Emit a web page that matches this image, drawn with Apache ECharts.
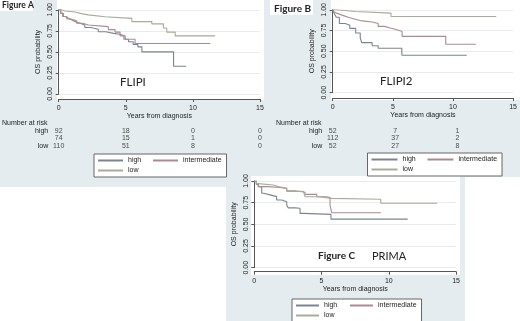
<!DOCTYPE html>
<html><head><meta charset="utf-8">
<script src="https://cdn.jsdelivr.net/npm/echarts@6/dist/echarts.min.js"></script>
<style>html,body{margin:0;padding:0;background:#fff}#c{width:520px;height:321px}</style>
</head><body><div id="c"></div>
<script>
// ---- data (time in years, OS probability) ----
const groups = ['high', 'intermediate', 'low'];
const xTicks = [0, 5, 10, 15];
const yTicks = [0, 0.25, 0.5, 0.75, 1];

// Figure A (FLIPI)
const aHigh = [[0,1],[0.15,0.96],[0.3,0.92],[0.5,0.9],[0.72,0.88],[1.0,0.86],[1.2,0.84],[1.6,0.82],[1.95,0.79],[2.4,0.77],[2.95,0.74],[3.5,0.72],[4.1,0.71],[4.55,0.69],[4.95,0.65],[5.2,0.62],[5.55,0.59],[5.9,0.56],[6.2,0.50],[8.56,0.33],[9.5,0.33]];
const aInt  = [[0,1],[0.15,0.96],[0.35,0.92],[0.6,0.89],[0.9,0.87],[1.34,0.84],[1.8,0.82],[2.21,0.80],[3.7,0.765],[4.2,0.735],[4.57,0.69],[4.85,0.65],[5.69,0.60],[11.3,0.60]];
const aLow  = [[0,1],[0.2,0.985],[0.47,0.974],[1.2,0.955],[1.7,0.94],[2.2,0.917],[3.45,0.898],[5.45,0.86],[6.94,0.833],[7.8,0.784],[8.05,0.735],[8.68,0.69],[11.66,0.69]];
// Figure B (FLIPI2)
const bHigh = [[0,1],[0.15,0.95],[0.3,0.91],[0.55,0.834],[1.04,0.815],[1.42,0.776],[1.91,0.72],[2.29,0.66],[2.41,0.604],[3.28,0.566],[3.78,0.536],[5.75,0.452],[11.15,0.452]];
const bInt  = [[0,1],[0.15,0.97],[0.3,0.948],[0.55,0.93],[0.9,0.91],[1.29,0.89],[1.8,0.87],[2.29,0.853],[3.28,0.834],[3.78,0.80],[4.3,0.78],[4.78,0.765],[5.2,0.75],[5.52,0.738],[5.77,0.68],[9.4,0.585],[11.9,0.585]];
const bLow  = [[0,1],[0.3,0.98],[1.9,0.96],[4.85,0.92],[13.6,0.92]];
// Figure C (PRIMA)
const cHigh = [[0,1],[0.15,0.97],[0.3,0.934],[0.55,0.858],[0.7,0.84],[1.17,0.82],[1.66,0.78],[2.04,0.76],[2.41,0.72],[2.53,0.69],[3.03,0.685],[3.4,0.627],[3.64,0.615],[5.7,0.56],[11.4,0.56]];
const cInt  = [[0,1],[0.15,0.96],[0.3,0.935],[1.0,0.925],[1.91,0.915],[2.41,0.888],[3.0,0.87],[3.77,0.846],[4.64,0.819],[5.38,0.808],[5.63,0.72],[5.75,0.634],[9.4,0.634]];
const cLow  = [[0,1],[0.15,0.97],[0.3,0.954],[1.41,0.935],[1.79,0.915],[2.41,0.88],[3.65,0.858],[3.77,0.819],[4.76,0.80],[5.75,0.789],[9.4,0.743],[13.6,0.743]];

// Number at risk
const riskTimesA = [0, 5, 10, 15];
const riskAHigh = [92, 18, 0, 0];
const riskAInt  = [74, 15, 1, 0];
const riskALow  = [110, 51, 8, 0];
const riskTimesB = [0, 5, 10];
const riskBHigh = [52, 7, 1];
const riskBInt  = [112, 37, 2];
const riskBLow  = [52, 27, 8];

// ---- styling ----
const F = '"Liberation Sans", Arial, sans-serif';
const FA = 'Lato, "Open Sans", sans-serif';
const TXT = '#222';
const AX = '#555';
const GREY = '#e5ecef';
const COL = { high: '#7a8590', intermediate: '#ad8a8e', low: '#a8ab98' };

function plotX(grid, offset) {
  return { gridIndex: grid, type: 'value', min: 0, max: 15, interval: 5, offset: offset,
    axisLine: { show: true, onZero: false, lineStyle: { color: AX, width: 1 } },
    axisTick: { show: true, length: 3, lineStyle: { color: AX } },
    axisLabel: { fontSize: 7, margin: 5.5, color: TXT, fontFamily: F },
    splitLine: { show: false },
    name: 'Years from diagnosis', nameLocation: 'middle', nameGap: 11.5,
    nameTextStyle: { fontSize: 7, color: TXT, fontFamily: F } };
}
function plotY(grid) {
  return { gridIndex: grid, type: 'value', min: 0, max: 1, interval: 0.25,
    axisLine: { show: true, lineStyle: { color: AX, width: 1 } },
    axisTick: { show: true, length: 3, lineStyle: { color: AX } },
    axisLabel: { rotate: 90, fontSize: 7, margin: 5, color: TXT, fontFamily: F, formatter: v => v.toFixed(2) },
    splitLine: { show: true, lineStyle: { color: '#e8ecee', width: 1 } },
    name: 'OS probability', nameLocation: 'middle', nameGap: 17,
    nameTextStyle: { fontSize: 7, color: TXT, fontFamily: F } };
}
function riskX(grid) { return { gridIndex: grid, type: 'value', min: 0, max: 15, show: false }; }
function riskY(grid) {
  return { gridIndex: grid, type: 'category', data: groups, inverse: true,
    axisLine: { show: false }, axisTick: { show: false }, splitLine: { show: false },
    axisLabel: { fontSize: 7, color: TXT, fontFamily: F, margin: 10.5 } };
}
function km(name, data, axis) {
  return { name: name, type: 'line', xAxisIndex: axis, yAxisIndex: axis, data: data, step: 'end',
    symbol: 'none', silent: true, lineStyle: { width: 1.1, color: COL[name] }, itemStyle: { color: COL[name] } };
}
function risk(axis, times, rows) {
  const data = [];
  groups.forEach((g, gi) => times.forEach((t, i) => data.push([t, g, rows[gi][i]])));
  return { type: 'scatter', xAxisIndex: axis, yAxisIndex: axis, data: data, symbolSize: 1, silent: true,
    itemStyle: { color: 'rgba(0,0,0,0)' },
    label: { show: true, position: 'inside', formatter: p => String(p.value[2]), fontSize: 7, color: TXT, fontFamily: F } };
}
function leg(left, top, iw, hw) {
  return { left: left, top: top, orient: 'horizontal', width: 135, itemWidth: iw, itemHeight: 1, itemGap: 2,
    padding: [2.5, 5, 2.5, 3], borderColor: '#666', borderWidth: 1, backgroundColor: '#fff', selectedMode: false,
    itemStyle: { opacity: 0 },
    textStyle: { fontSize: 7, color: TXT, fontFamily: F, lineHeight: 8 },
    data: [{ name: 'high', textStyle: { width: hw } }, 'intermediate', 'low'] };
}
function rect(x, y, w, h, fill) { return { type: 'rect', z: -100, silent: true, shape: { x: x, y: y, width: w, height: h }, style: { fill: fill } }; }
function txt(x, y, s, size, weight, family, align) {
  return { type: 'text', z: 100, silent: true, x: x, y: y,
    style: { text: s, fontSize: size, fontWeight: weight || 'normal', fontFamily: family || F, fill: TXT, align: align || 'left', verticalAlign: 'middle' } };
}

const chart = echarts.init(document.getElementById('c'), null, { renderer: 'canvas' });
chart.setOption({
  animation: false,
  backgroundColor: '#fff',
  grid: [
    { left: 58.7, top: 6, width: 201.3, height: 88 },
    { left: 332.7, top: 5.5, width: 201, height: 87.2 },
    { left: 254.3, top: 181, width: 201.8, height: 86.7 },
    { left: 58.7, top: 127.2, width: 201.3, height: 22.5 },
    { left: 332.7, top: 127, width: 201, height: 22.5 }
  ],
  xAxis: [plotX(0, 5), plotX(1, 5.3), plotX(2, 4), riskX(3), riskX(4)],
  yAxis: [plotY(0), plotY(1), plotY(2), riskY(3), riskY(4)],
  legend: [leg(94, 154, 25, 22), leg(367.5, 153, 26, 22), leg(292, 299, 23, 23)],
  series: [
    km('high', aHigh, 0), km('intermediate', aInt, 0), km('low', aLow, 0),
    km('high', bHigh, 1), km('intermediate', bInt, 1), km('low', bLow, 1),
    km('high', cHigh, 2), km('intermediate', cInt, 2), km('low', cLow, 2),
    risk(3, riskTimesA, [riskAHigh, riskAInt, riskALow]),
    risk(4, riskTimesB, [riskBHigh, riskBInt, riskBLow])
  ],
  graphic: [
    rect(0, 0, 520, 177, GREY),
    rect(0, 177, 226, 10, GREY),
    rect(226, 170, 239, 151, GREY),
    rect(57, 0, 207, 100, '#fff'),
    rect(331, 0, 189, 100, '#fff'),
    rect(251, 176, 209, 99, '#fff'),
    rect(0, 0, 33, 11, '#fff'),
    rect(270, 0, 43, 15, '#fff'),
    txt(2, 5.5, 'Figure A', 8.5, 'bold', FA),
    txt(274, 8.5, 'Figure B', 10, 'bold', FA),
    txt(120, 82, 'FLIPI', 11.5, 'normal', FA),
    txt(380, 81, 'FLIPI2', 11.5, 'normal', FA),
    txt(318, 256, 'Figure C', 10, 'bold', FA),
    txt(372, 256, 'PRIMA', 11, 'normal', FA),
    txt(2, 123, 'Number at risk', 7),
    txt(276, 123.3, 'Number at risk', 7)
  ]
});
</script></body></html>
